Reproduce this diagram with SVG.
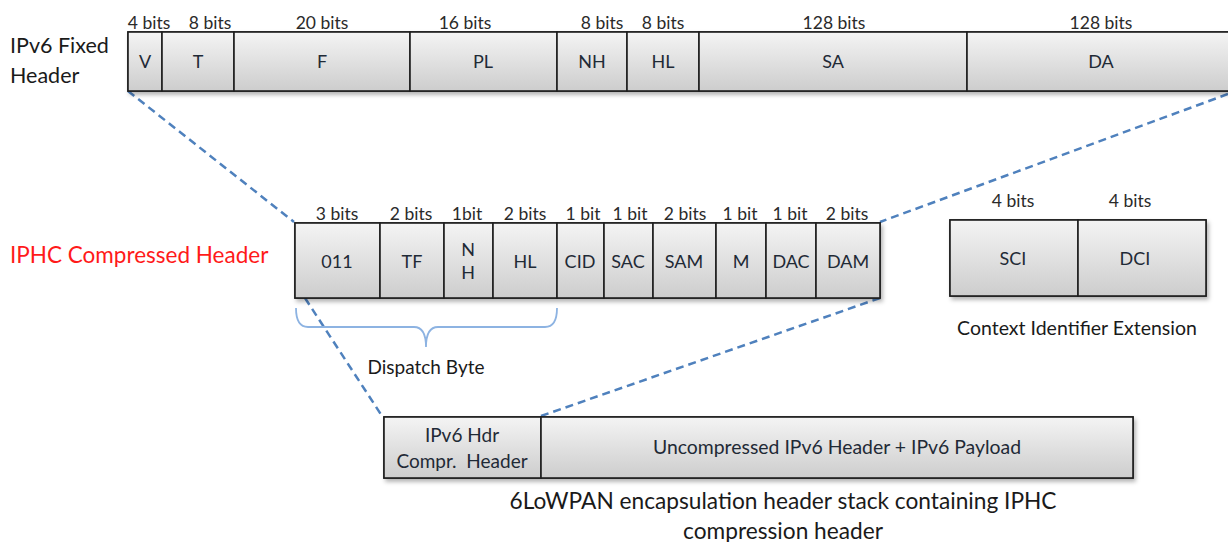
<svg xmlns="http://www.w3.org/2000/svg" width="1228" height="542" viewBox="0 0 1228 542">
<style>
.cell{fill:url(#g);stroke:#1e1e1e;stroke-width:1.6}
.frame{fill:url(#g);stroke:#1e1e1e;stroke-width:1.6;filter:url(#sh)}
.lbl{font-family:Lato,"Liberation Sans",sans-serif;font-size:18px;fill:#1f2a36;text-anchor:middle}
.bits{font-family:Lato,"Liberation Sans",sans-serif;font-size:17.5px;fill:#2a2a2a;text-anchor:middle}
.title{font-family:Lato,"Liberation Sans",sans-serif;font-size:21.5px;fill:#1a1a1a}
.cap{font-family:Lato,"Liberation Sans",sans-serif;font-size:22.7px;fill:#1a1a1a;text-anchor:middle}
.small{font-family:Lato,"Liberation Sans",sans-serif;font-size:19px;fill:#1a1a1a;text-anchor:middle}
.dash{fill:none;stroke:#4f81bd;stroke-width:2.5;stroke-dasharray:8 5}
.brace{fill:none;stroke:#8db3e2;stroke-width:1.8}
</style>
<defs>
<linearGradient id="g" x1="0" y1="0" x2="0" y2="1">
<stop offset="0" stop-color="#f4f4f4"/>
<stop offset="1" stop-color="#cdcdcd"/>
</linearGradient>
<filter id="sh" x="-5%" y="-10%" width="110%" height="130%">
<feDropShadow dx="2" dy="3" stdDeviation="2" flood-color="#000" flood-opacity="0.3"/>
</filter>
</defs>
<rect width="1228" height="542" fill="#fff"/>

<g id="connectors">
<line class="dash" x1="128" y1="91" x2="294" y2="222"/>
<line class="dash" x1="1228" y1="94" x2="880" y2="222"/>
<line class="dash" x1="305" y1="298" x2="382" y2="416"/>
<line class="dash" x1="880" y1="298" x2="541" y2="416"/>
<path class="brace" d="M296,308 Q296,327 308,327 L414,327 Q426,327 426,347 Q426,327 438,327 L545,327 Q557,327 557,308"/>
</g>

<g id="ipv6-fixed-header">
<text class="title" x="10" y="53">IPv6 Fixed</text>
<text class="title" x="10" y="83">Header</text>
<rect class="frame" x="128" y="32" width="1110" height="59"/>
<g id="f-V"><rect class="cell" x="128" y="32" width="34" height="59"/><text class="lbl" x="145" y="68">V</text><text class="bits" x="149" y="29">4 bits</text></g>
<g id="f-T"><rect class="cell" x="162" y="32" width="72" height="59"/><text class="lbl" x="198" y="68">T</text><text class="bits" x="210" y="29">8 bits</text></g>
<g id="f-F"><rect class="cell" x="234" y="32" width="176" height="59"/><text class="lbl" x="322" y="68">F</text><text class="bits" x="322" y="29">20 bits</text></g>
<g id="f-PL"><rect class="cell" x="410" y="32" width="147" height="59"/><text class="lbl" x="483" y="68">PL</text><text class="bits" x="465" y="29">16 bits</text></g>
<g id="f-NH"><rect class="cell" x="557" y="32" width="70" height="59"/><text class="lbl" x="592" y="68">NH</text><text class="bits" x="602" y="29">8 bits</text></g>
<g id="f-HL"><rect class="cell" x="627" y="32" width="72" height="59"/><text class="lbl" x="663" y="68">HL</text><text class="bits" x="663" y="29">8 bits</text></g>
<g id="f-SA"><rect class="cell" x="699" y="32" width="268" height="59"/><text class="lbl" x="833" y="68">SA</text><text class="bits" x="834" y="29">128 bits</text></g>
<g id="f-DA"><rect class="cell" x="967" y="32" width="271" height="59"/><text class="lbl" x="1101" y="68">DA</text><text class="bits" x="1101" y="29">128 bits</text></g>
</g>

<g id="iphc-header">
<text class="title" x="10" y="263" style="fill:#ff1a1a;font-size:22.5px">IPHC Compressed Header</text>
<rect class="frame" x="295" y="223" width="585" height="75"/>
<g id="i-011"><rect class="cell" x="295" y="223" width="85" height="75"/><text class="lbl" x="337" y="268">011</text><text class="bits" x="337" y="220">3 bits</text></g>
<g id="i-TF"><rect class="cell" x="380" y="223" width="64" height="75"/><text class="lbl" x="412" y="268">TF</text><text class="bits" x="411" y="220">2 bits</text></g>
<g id="i-NH"><rect class="cell" x="444" y="223" width="49" height="75"/><text class="lbl" x="468" y="256">N</text><text class="lbl" x="468" y="279">H</text><text class="bits" x="467" y="220">1bit</text></g>
<g id="i-HL"><rect class="cell" x="493" y="223" width="64" height="75"/><text class="lbl" x="525" y="268">HL</text><text class="bits" x="525" y="220">2 bits</text></g>
<g id="i-CID"><rect class="cell" x="557" y="223" width="47" height="75"/><text class="lbl" x="580" y="268">CID</text><text class="bits" x="583" y="220">1 bit</text></g>
<g id="i-SAC"><rect class="cell" x="604" y="223" width="49" height="75"/><text class="lbl" x="628" y="268">SAC</text><text class="bits" x="630" y="220">1 bit</text></g>
<g id="i-SAM"><rect class="cell" x="653" y="223" width="63" height="75"/><text class="lbl" x="684" y="268">SAM</text><text class="bits" x="685" y="220">2 bits</text></g>
<g id="i-M"><rect class="cell" x="716" y="223" width="50" height="75"/><text class="lbl" x="741" y="268">M</text><text class="bits" x="740" y="220">1 bit</text></g>
<g id="i-DAC"><rect class="cell" x="766" y="223" width="50" height="75"/><text class="lbl" x="791" y="268">DAC</text><text class="bits" x="790" y="220">1 bit</text></g>
<g id="i-DAM"><rect class="cell" x="816" y="223" width="64" height="75"/><text class="lbl" x="848" y="268">DAM</text><text class="bits" x="847" y="220">2 bits</text></g>
<text class="small" x="426" y="374">Dispatch Byte</text>
</g>

<g id="context-id-extension">
<rect class="frame" x="950" y="220" width="256" height="76"/>
<g id="c-SCI"><rect class="cell" x="950" y="220" width="128" height="76"/><text class="lbl" x="1013" y="265">SCI</text><text class="bits" x="1013" y="207">4 bits</text></g>
<g id="c-DCI"><rect class="cell" x="1078" y="220" width="128" height="76"/><text class="lbl" x="1135" y="265">DCI</text><text class="bits" x="1130" y="207">4 bits</text></g>
<text class="small" x="1077" y="335" style="font-size:19.5px">Context Identifier Extension</text>
</g>

<g id="lowpan-stack">
<rect class="frame" x="384" y="417" width="749" height="61"/>
<g id="s-hdr"><rect class="cell" x="384" y="417" width="157" height="61"/><text class="lbl" x="462" y="442" style="font-size:19px">IPv6 Hdr</text><text class="lbl" x="462" y="468" style="font-size:19px" xml:space="preserve">Compr.  Header</text></g>
<g id="s-payload"><rect class="cell" x="541" y="417" width="592" height="61"/><text class="lbl" x="837" y="454" style="font-size:19.4px">Uncompressed IPv6 Header + IPv6 Payload</text></g>
<text class="cap" x="783" y="509">6LoWPAN encapsulation header stack containing IPHC</text>
<text class="cap" x="783" y="539">compression header</text>
</g>
</svg>
